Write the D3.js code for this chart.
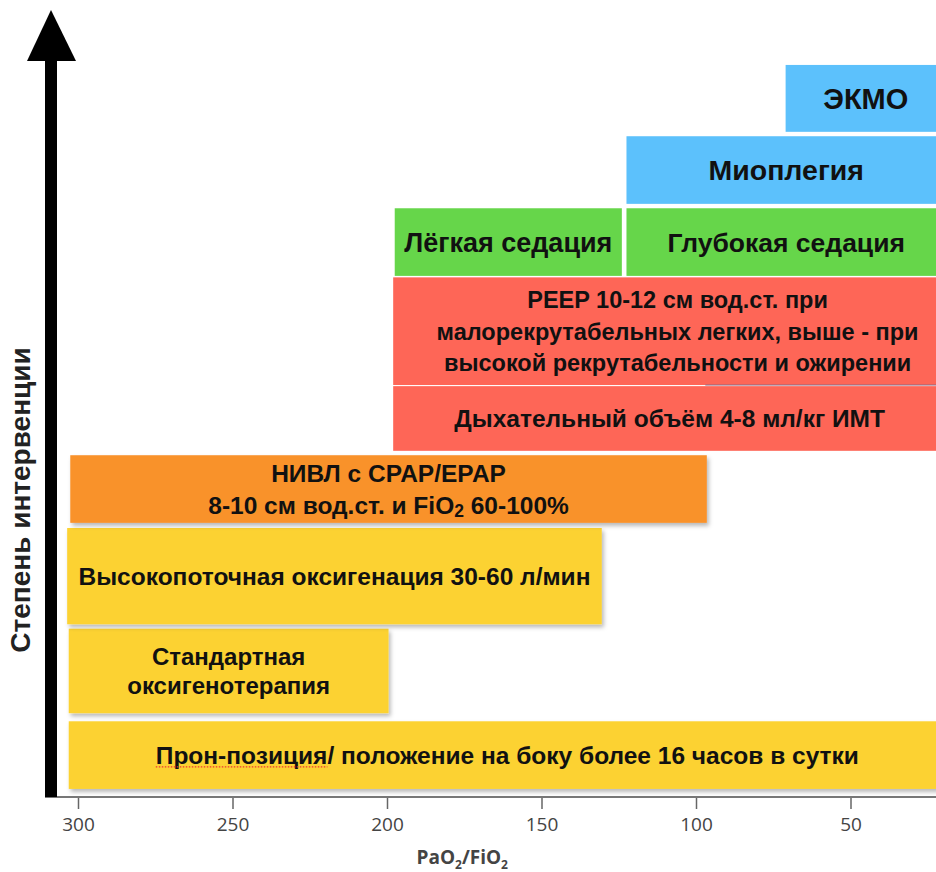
<!DOCTYPE html>
<html>
<head>
<meta charset="utf-8">
<script src="https://cdn.jsdelivr.net/npm/d3@7"></script>
<style>
  body { margin: 0; background: #fff; }
  svg { display: block; }
</style>
</head>
<body>
<div id="chart"></div>
<script>
var width = 936, height = 872;

// interventions, bottom to top
var labels = [
  ["Прон-позиция/ положение на боку более 16 часов в сутки"],
  ["Стандартная", "оксигенотерапия"],
  ["Высокопоточная оксигенация 30-60 л/мин"],
  ["НИВЛ с CPAP/EPAP", "8-10 см вод.ст. и FiO₂ 60-100%"],
  ["Дыхательный объём 4-8 мл/кг ИМТ"],
  ["PEEP 10-12 см вод.ст. при", "малорекрутабельных легких, выше - при", "высокой рекрутабельности и ожирении"],
  ["Лёгкая седация"],
  ["Глубокая седация"],
  ["Миоплегия"],
  ["ЭКМО"]
];
var groups = ["position", "oxygen", "oxygen", "niv", "ventilation", "ventilation", "sedation", "sedation", "rescue", "rescue"];
// PaO2/FiO2 range where the intervention applies
var pfFrom = [303, 303, 303.5, 302.5, 198, 198, 197.5, 122.5, 122.5, 71];
var pfTo   = [0, 199.5, 130.5, 96.5, 0, 0, 124, 0, 0, 0];
// degree of intervention (0-100 scale)
var levelLo = [1.1, 11.4, 23.5, 37.3, 47.1, 56.05, 70.9, 70.9, 80.7, 90.5];
var levelHi = [10.3, 22.9, 36.6, 46.5, 55.9, 70.7, 80.1, 80.1, 89.9, 99.6];

var xTicks = [300, 250, 200, 150, 100, 50];

var colors = {
  position: "#fcd230",
  oxygen: "#fcd230",
  niv: "#f9922b",
  ventilation: "#fe6657",
  sedation: "#66d64a",
  rescue: "#5cc1fc"
};
var fontSizes = [24.5, 24, 24.5, 24.5, 24.5, 23.5, 27, 26.5, 28.5, 29];

var data = labels.map(function (l, i) {
  return { lines: l, group: groups[i], from: pfFrom[i], to: pfTo[i], lo: levelLo[i], hi: levelHi[i], fs: fontSizes[i] };
});

var svg = d3.select("#chart")
  .append("svg")
    .attr("width", width)
    .attr("height", height);

var defs = svg.append("defs");
var shadow = defs.append("filter").attr("id", "shadow")
  .attr("x", "-5%").attr("y", "-10%").attr("width", "115%").attr("height", "130%");
shadow.append("feDropShadow")
  .attr("dx", 2).attr("dy", 3).attr("stdDeviation", 2)
  .attr("flood-color", "#000").attr("flood-opacity", 0.28);

var x = d3.scaleLinear().domain([300, 0]).range([78, 1005]);
var y = d3.scaleLinear().domain([0, 100]).range([797, 62]);

// x axis
var xAxis = d3.axisBottom(x).tickValues(xTicks).tickSize(12).tickPadding(9).tickSizeOuter(0);
var gx = svg.append("g")
  .attr("transform", "translate(0,797)")
  .call(xAxis);
gx.select(".domain").remove();
gx.append("line")
  .attr("x1", 45).attr("x2", width)
  .attr("stroke", "#777").attr("stroke-width", 2);
gx.selectAll(".tick line").attr("stroke", "#666").attr("stroke-width", 1.5);
gx.selectAll(".tick text")
  .attr("fill", "#444")
  .style("font-family", "'Open Sans', sans-serif")
  .style("font-size", "19px");

var title = svg.append("text")
  .attr("x", (x(200) + x(150)) / 2 - 2)
  .attr("y", 864)
  .attr("text-anchor", "middle")
  .attr("fill", "#444")
  .style("font-family", "'Open Sans', sans-serif")
  .style("font-weight", "bold")
  .style("font-size", "19px");
title.append("tspan").text("PaO");
title.append("tspan").attr("dy", 5).style("font-size", "12px").text("2");
title.append("tspan").attr("dy", -5).text("/FiO");
title.append("tspan").attr("dy", 5).style("font-size", "12px").text("2");

// bars
var bars = svg.append("g").selectAll("g.bar")
  .data(data)
  .enter().append("g")
    .attr("class", "bar");

bars.append("rect")
  .attr("x", function (d) { return x(d.from); })
  .attr("y", function (d) { return y(d.hi); })
  .attr("width", function (d) { return x(d.to) - x(d.from); })
  .attr("height", function (d) { return y(d.lo) - y(d.hi); })
  .attr("fill", function (d) { return colors[d.group]; })
  .attr("filter", function (d) { return (d.group == "oxygen" || d.group == "niv" || d.group == "position") ? "url(#shadow)" : null; });

// faint border between the two ventilation bars
svg.append("line")
  .attr("x1", x(97)).attr("x2", width)
  .attr("y1", y(56.05)).attr("y2", y(56.05))
  .attr("stroke", "#8c6a86").attr("stroke-width", 1);

bars.each(function (d, i) {
  var g = d3.select(this);
  // open-ended bars run a little past the picture edge
  var cx = (x(d.from) + Math.min(x(d.to), width + 10)) / 2;
  if (i == 5) cx += 8;
  var cy = (y(d.lo) + y(d.hi)) / 2;
  var lh = d.lines.length > 2 ? 31.5 : 32;
  if (d.lines.length == 2 && d.group == "oxygen") lh = 29;
  var t = g.append("text")
    .attr("text-anchor", "middle")
    .attr("fill", "#111")
    .style("font-family", "'Liberation Sans', Arial, sans-serif")
    .style("font-weight", "bold")
    .style("font-size", d.fs + "px");
  d.lines.forEach(function (line, j) {
    var ty = cy + (j - (d.lines.length - 1) / 2) * lh + d.fs * 0.36;
    var ts = t.append("tspan").attr("x", cx).attr("y", ty);
    if (line.indexOf("FiO₂") >= 0) {
      var parts = line.split("₂");
      ts.text(parts[0]);
      t.append("tspan").attr("dy", 3).style("font-size", (d.fs - 7) + "px").text("2");
      t.append("tspan").attr("dy", -3).text(parts[1]);
    } else {
      ts.text(line);
    }
  });
});

// spell-check squiggle under the first word of the bottom bar
var firstText = bars.filter(function (d, i) { return i == 0; }).select("text");
var firstNode = firstText.select("tspan").node();
var ext = firstNode.getExtentOfChar(0);
var endExt = firstNode.getExtentOfChar(11);
svg.append("line")
  .attr("x1", ext.x).attr("x2", endExt.x + endExt.width)
  .attr("y1", ext.y + ext.height - 2).attr("y2", ext.y + ext.height - 2)
  .attr("stroke", "#e33").attr("stroke-width", 1.2)
  .attr("stroke-dasharray", "1.5,1.5");

// vertical arrow
svg.append("rect")
  .attr("x", 45).attr("y", 58)
  .attr("width", 12).attr("height", 739)
  .attr("fill", "#000");
svg.append("path")
  .attr("d", d3.line()([[27, 61], [51, 10], [76, 61]]) + "Z")
  .attr("fill", "#000");

// y label
svg.append("text")
  .attr("transform", "translate(30,500) rotate(-90)")
  .attr("text-anchor", "middle")
  .attr("fill", "#222")
  .style("font-family", "'Liberation Sans', Arial, sans-serif")
  .style("font-weight", "bold")
  .style("font-size", "28px")
  .text("Степень интервенции");
</script>
</body>
</html>
